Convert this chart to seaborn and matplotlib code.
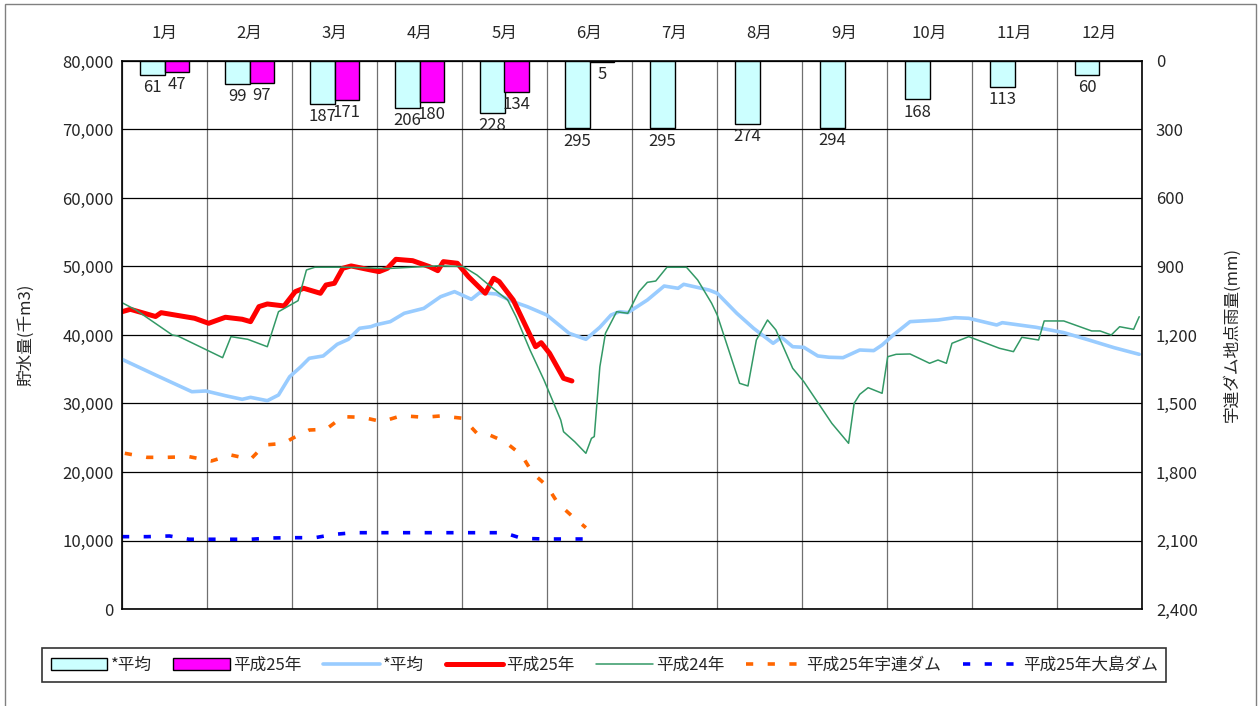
import seaborn as sns
import matplotlib.pyplot as plt
import matplotlib.patches as mpatches
import pandas as pd
import numpy as np

# monthly rainfall at Uren dam (mm)
months = ['1月', '2月', '3月', '4月', '5月', '6月', '7月', '8月', '9月', '10月', '11月', '12月']
rain_avg = [61, 99, 187, 206, 228, 295, 295, 274, 294, 168, 113, 60]
rain_h25 = [47, 97, 171, 180, 134, 5]

# storage (thousand m3) by day of year
avg_days = [0, 12, 25, 30, 37, 43, 46, 52, 56, 60, 64, 67, 72, 77, 81, 85, 89, 91, 96, 101, 108, 114, 119,
            125, 128, 134, 140, 145, 152, 160, 166, 171, 175, 178, 181, 188, 194, 199, 201, 210, 213, 220,
            226, 233, 236, 240, 244, 249, 253, 258, 264, 269, 272, 276, 282, 292, 298, 303, 313, 315, 327,
            337, 346, 355, 364]
avg_vals = [36450, 34160, 31720, 31830, 31140, 30610, 30900, 30410, 31240, 33910, 35370, 36600, 36940,
            38640, 39370, 40980, 41210, 41500, 41950, 43170, 43890, 45590, 46330, 45210, 46180, 45990,
            44860, 44140, 42920, 40250, 39370, 41130, 42920, 43400, 43260, 45110, 47150, 46820, 47400,
            46570, 46090, 43170, 40980, 38790, 39670, 38290, 38200, 36940, 36750, 36690, 37810, 37720,
            38540, 40000, 41950, 42190, 42530, 42440, 41460, 41800, 41130, 40350, 39270, 38150, 37180]

h25_days = [0, 3, 12, 14, 21, 26, 31, 37, 43, 46, 49, 52, 58, 62, 65, 71, 73, 76, 79, 82, 89, 92, 95, 98,
            104, 110, 113, 115, 120, 124, 130, 133, 135, 140, 148, 150, 153, 158, 161]
h25_vals = [43400, 43750, 42700, 43260, 42780, 42440, 41710, 42590, 42300, 41950, 44140, 44530, 44240,
            46330, 46820, 46090, 47300, 47550, 49740, 50080, 49490, 49250, 49740, 51050, 50850, 49980,
            49390, 50710, 50470, 48510, 46090, 48280, 47790, 45110, 38290, 38880, 37330, 33680, 33290]

h24_days = [0, 5, 18, 20, 36, 39, 45, 52, 56, 63, 66, 69, 80, 95, 113, 122, 127, 132, 138, 141, 146, 151,
            157, 158, 162, 166, 168, 169, 171, 173, 177, 181, 185, 188, 191, 195, 202, 206, 211, 213, 221,
            224, 227, 231, 234, 240, 244, 250, 254, 260, 262, 264, 267, 272, 274, 277, 282, 289, 292, 295,
            297, 303, 314, 319, 322, 328, 330, 337, 347, 350, 354, 357, 362, 364]
h24_vals = [44720, 43650, 40000, 39850, 36690, 39760, 39370, 38290, 43400, 45010, 49490, 49890, 49900,
            49700, 50100, 50000, 48760, 47060, 45110, 42670, 37810, 33430, 27590, 25880, 24420, 22730,
            24920, 25170, 35370, 40250, 43400, 43170, 46330, 47690, 47880, 49890, 49890, 48030, 44630,
            42920, 32950, 32560, 39270, 42190, 40730, 35140, 33180, 29540, 27110, 24190, 30030, 31340,
            32310, 31490, 36830, 37180, 37230, 35870, 36350, 35870, 38790, 39760, 38060, 37570, 39670,
            39270, 42050, 42050, 40590, 40590, 40000, 41210, 40830, 42670]

uren_days = [1, 9, 16, 24, 32, 39, 46, 51, 58, 61, 67, 73, 79, 86, 93, 100, 108, 114, 122, 127, 131, 137,
             143, 147, 152, 156, 161, 166]
uren_vals = [22730, 22140, 22140, 22240, 21610, 22480, 21850, 23940, 24190, 24920, 26130, 26230, 28070,
             27990, 27350, 28220, 27990, 28180, 27840, 25650, 25500, 24420, 22480, 19810, 18000, 15430,
             13580, 11870]

oshima_days = [0, 9, 17, 24, 32, 39, 46, 54, 61, 69, 76, 83, 100, 120, 135, 137, 143, 151, 166]
oshima_vals = [10560, 10560, 10660, 10180, 10180, 10180, 10180, 10370, 10410, 10410, 10900, 11140, 11140,
               11140, 11140, 11100, 10320, 10220, 10220]

sns.set_style("white")
plt.rcParams['font.family'] = ['Noto Sans CJK JP', 'DejaVu Sans']

fig = plt.figure(figsize=(12.59, 7.06), dpi=100)
ax = fig.add_axes([122 / 1259, 1 - 609 / 706, 1020 / 1259, 548 / 706])
ax2 = ax.twinx()

# bars on the right (inverted) axis
rain_df = pd.DataFrame({
    'month': months + months[:len(rain_h25)],
    'rain': rain_avg + rain_h25,
    'kind': ['*平均'] * len(rain_avg) + ['平成25年'] * len(rain_h25),
})
sns.barplot(data=rain_df, x='month', y='rain', hue='kind', order=months,
            palette=['#CCFFFF', '#FF00FF'], saturation=1, edgecolor='black', linewidth=1,
            width=0.58, gap=0, ax=ax2)
ax2.set_ylim(2400, 0)
for c in ax2.containers:
    ax2.bar_label(c, fmt='%d', padding=3, fontsize=12)


def to_x(days):
    return np.array(days) / 365 * 12 - 0.5


series = [
    (avg_days, avg_vals, '*平均', '#99CCFF', 2.6, '-'),
    (h25_days, h25_vals, '平成25年', '#FF0000', 3.6, '-'),
    (h24_days, h24_vals, '平成24年', '#339966', 1.1, '-'),
    (uren_days, uren_vals, '平成25年宇連ダム', '#FF6600', 2.6, (0, (2, 4))),
    (oshima_days, oshima_vals, '平成25年大島ダム', '#0000FF', 2.6, (0, (2, 4))),
]
for days, vals, name, color, lw, ls in series:
    df = pd.DataFrame({'x': to_x(days), 'y': vals})
    sns.lineplot(data=df, x='x', y='y', color=color, linewidth=lw, linestyle=ls,
                 label=name, ax=ax, legend=False)

ax.set_ylim(0, 80000)
ax.set_yticks(np.arange(0, 80001, 10000))
ax.set_yticklabels([f'{v:,}' for v in range(0, 80001, 10000)], fontsize=12)
ax.set_ylabel('貯水量(千m3)', fontsize=12, labelpad=20)

ax2.set_yticks(np.arange(0, 2401, 300))
ax2.set_yticklabels([f'{v:,}' for v in range(0, 2401, 300)], fontsize=12)
ax2.set_ylabel('宇連ダム地点雨量(mm)', fontsize=12, labelpad=18)

ax.set_xlim(-0.5, 11.5)
ax.set_xticks(np.arange(12))
ax.set_xticklabels(months, fontsize=12)
ax.set_xticks(np.arange(-0.5, 12, 1), minor=True)
ax.xaxis.tick_top()
ax.set_xlabel('')
ax.tick_params(axis='x', which='both', length=0, pad=14)
ax.tick_params(axis='y', length=0, pad=6)
ax2.tick_params(axis='y', length=0, pad=10)

ax.grid(axis='y', color='black', linewidth=0.9)
ax.grid(axis='x', which='minor', color='#707070', linewidth=0.9)
for s in ax.spines.values():
    s.set_color('black')
    s.set_linewidth(1.2)
for s in ax2.spines.values():
    s.set_visible(False)

# legend: bars first, then lines
bh, bl = ax2.get_legend_handles_labels()
lh, ll = ax.get_legend_handles_labels()
ax2.get_legend().remove()
leg = fig.legend(bh + lh, bl + ll, ncol=7, loc='upper left',
                 bbox_to_anchor=(34 / 1259, 1 - 640 / 706), fontsize=12,
                 frameon=True, fancybox=False, edgecolor='black',
                 handlelength=3.4, handletextpad=0.2, columnspacing=1.3,
                 borderpad=0.5)
leg.get_frame().set_linewidth(1.2)

fig.patches.append(mpatches.Rectangle((5 / 1259, -0.1), 1251 / 1259, 1.1 - 4 / 706,
                                      transform=fig.transFigure, fill=False,
                                      edgecolor='#808080', linewidth=1))

fig.savefig('out.png', dpi=100)
